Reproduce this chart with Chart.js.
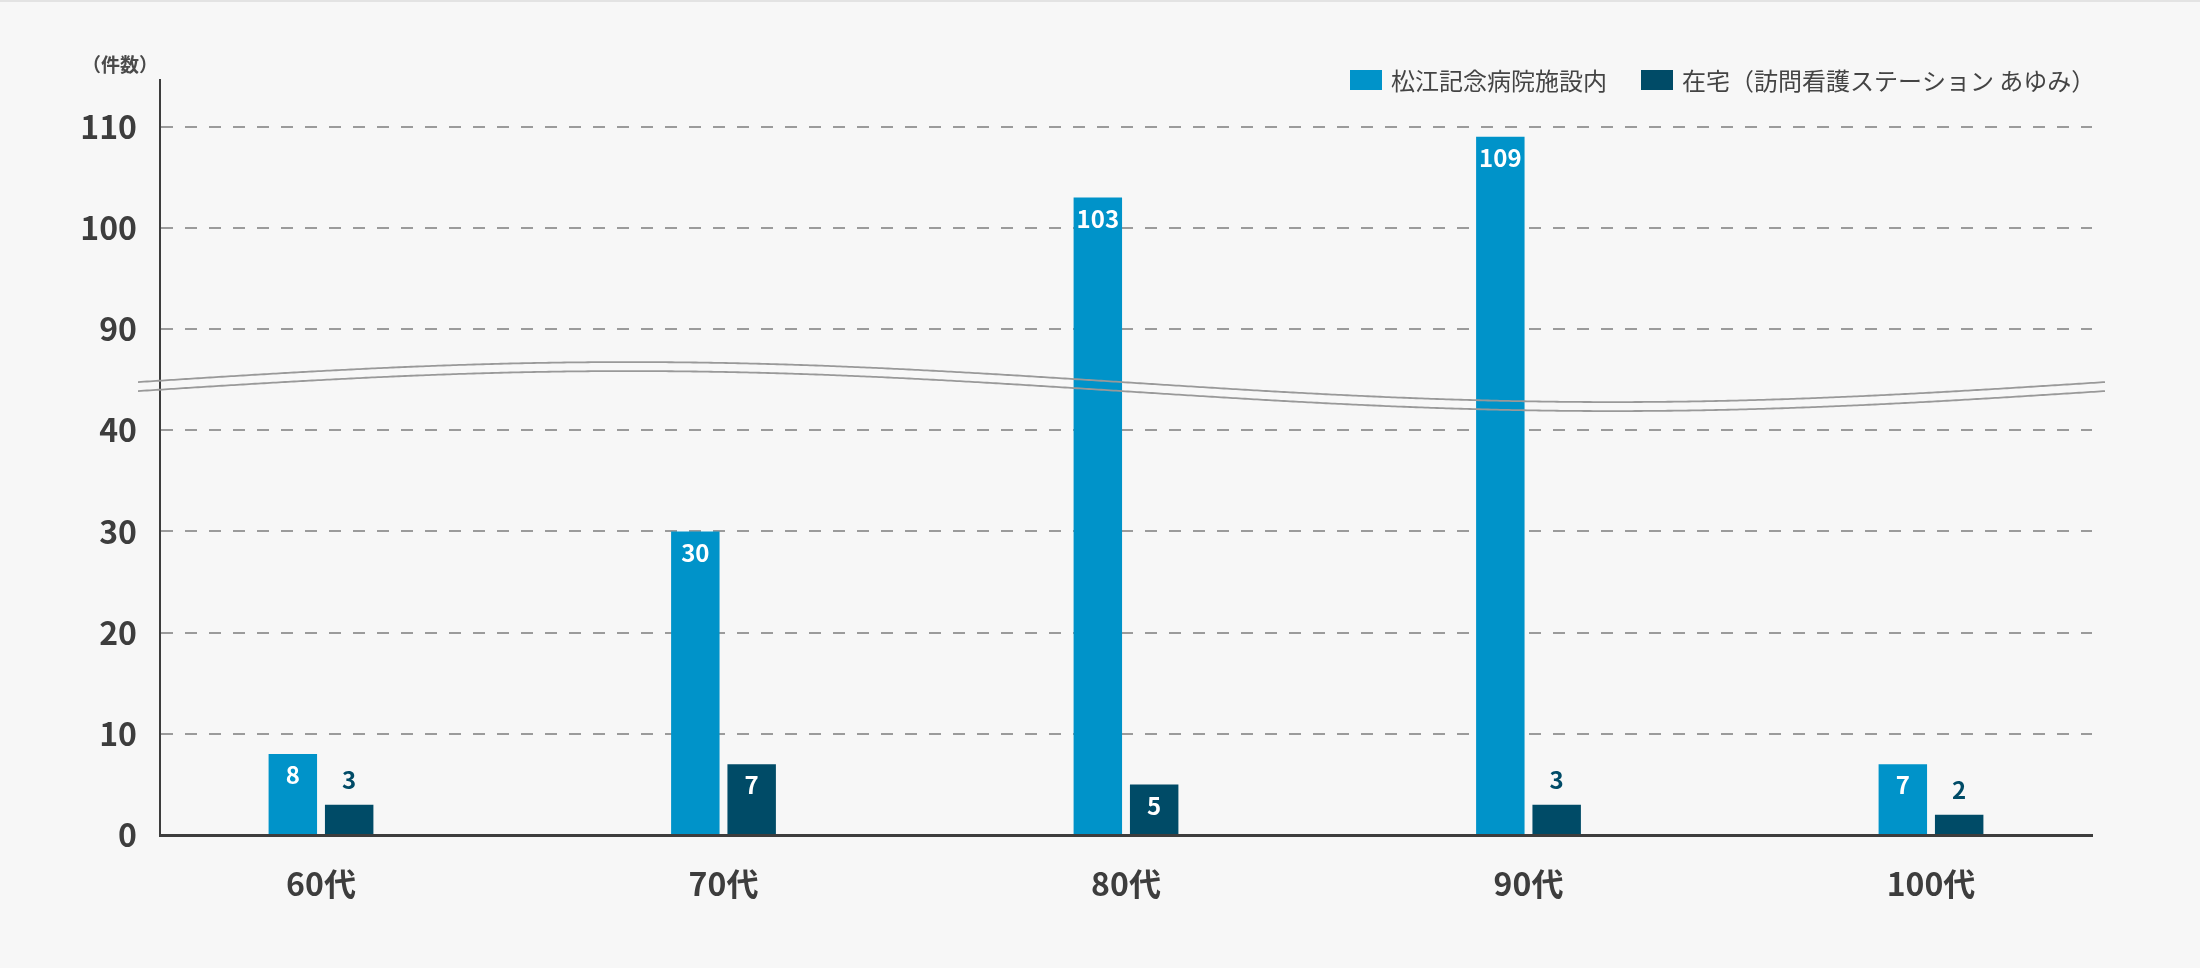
<!DOCTYPE html>
<html lang="ja">
<head>
<meta charset="utf-8">
<script src="https://cdn.jsdelivr.net/npm/chart.js@4.4.1/dist/chart.umd.min.js"></script>
<style>
  html, body { margin: 0; padding: 0; background: #f7f7f7; }
  #wrap { position: relative; width: 2200px; height: 968px; }
  #topline { position: absolute; left: 0; top: 0; width: 2200px; height: 2px; background: #e3e3e3; }
</style>
</head>
<body>
<div id="wrap"><canvas id="ageChart"></canvas><div id="topline"></div></div>
<script>
const ageGroups = ['60代', '70代', '80代', '90代', '100代'];
const seriesNames = ['松江記念病院施設内', '在宅（訪問看護ステーション あゆみ）'];
const hospitalCounts = [8, 30, 103, 109, 7];
const homeCounts = [3, 7, 5, 3, 2];
const seriesColors = ['#0093c9', '#004b67'];
const yTicks = [0, 10, 20, 30, 40, 90, 100, 110];
const unitLabel = '（件数）';

// axis is cut between 40 and 90, so 90 sits one step above 40
const breakLow = 40;
const breakHigh = 90;
const cut = breakHigh - breakLow - 10;
const toAxis = v => v >= breakHigh ? v - cut : v;
const fromAxis = v => v > breakLow ? v + cut : v;

const fontFamily = "'Noto Sans CJK JP', 'Noto Sans', sans-serif";
const textColor = '#3d3d3d';
const allCounts = [hospitalCounts, homeCounts];

// category axis with a smaller margin at both ends than the usual half band
class PaddedCategoryScale extends Chart.CategoryScale {
    configure() {
        super.configure();
        const edge = 0.4;
        this._startValue = this.min - edge;
        this._valueRange = (this.max - this.min) + edge * 2;
    }
}
PaddedCategoryScale.id = 'paddedCategory';
PaddedCategoryScale.defaults = Chart.CategoryScale.defaults;
Chart.register(PaddedCategoryScale);

const overlay = {
    id: 'overlay',
    afterDatasetsDraw(chart) {
        const { ctx, chartArea, scales } = chart;

        // wavy break lines
        const mid = (scales.y.getPixelForValue(toAxis(breakLow)) + scales.y.getPixelForValue(toAxis(breakHigh))) / 2 + 7;
        const x0 = chartArea.left - 22;
        const x1 = chartArea.right + 13;
        ctx.save();
        ctx.strokeStyle = '#999999';
        ctx.lineWidth = 1.8;
        [-4.5, 4.5].forEach(off => {
            ctx.beginPath();
            for (let x = x0; x <= x1 + 3; x += 3) {
                const xx = Math.min(x, x1);
                const y = mid + off - 20 * Math.sin(2 * Math.PI * (xx - x0) / (x1 - x0));
                if (x === x0) ctx.moveTo(xx, y); else ctx.lineTo(xx, y);
            }
            ctx.stroke();
        });
        ctx.restore();

        // value labels
        ctx.save();
        ctx.font = `bold 24px ${fontFamily}`;
        ctx.textAlign = 'center';
        ctx.textBaseline = 'middle';
        chart.data.datasets.forEach((ds, di) => {
            const meta = chart.getDatasetMeta(di);
            meta.data.forEach((bar, i) => {
                const value = allCounts[di][i];
                const h = bar.base - bar.y;
                if (h > 40) {
                    ctx.fillStyle = '#ffffff';
                    ctx.fillText(String(value), bar.x, bar.y + 21);
                } else {
                    ctx.fillStyle = seriesColors[1];
                    ctx.fillText(String(value), bar.x, bar.y - 25);
                }
            });
        });
        ctx.restore();
    },
    afterDraw(chart) {
        const ctx = chart.ctx;

        // unit label
        ctx.save();
        ctx.font = `bold 19px ${fontFamily}`;
        ctx.fillStyle = '#4a4a4a';
        ctx.textAlign = 'center';
        ctx.textBaseline = 'middle';
        ctx.fillText(unitLabel, 120, 65);
        ctx.restore();

        // legend
        let lx = 1350;
        seriesNames.forEach((name, i) => {
            ctx.save();
            ctx.fillStyle = seriesColors[i];
            ctx.fillRect(lx, 70, 32, 20);
            ctx.font = `24px ${fontFamily}`;
            ctx.fillStyle = '#444444';
            ctx.textAlign = 'left';
            ctx.textBaseline = 'middle';
            ctx.fillText(name, lx + 41, 81);
            const w = ctx.measureText(name).width;
            ctx.restore();
            lx += 41 + w + 34;
        });
    }
};

const ctx = document.getElementById('ageChart').getContext('2d');
new Chart(ctx, {
    type: 'bar',
    data: {
        labels: ageGroups,
        datasets: [{
            label: seriesNames[0],
            data: hospitalCounts.map(toAxis),
            backgroundColor: seriesColors[0],
            categoryPercentage: 0.28,
            barPercentage: 0.86
        }, {
            label: seriesNames[1],
            data: homeCounts.map(toAxis),
            backgroundColor: seriesColors[1],
            categoryPercentage: 0.28,
            barPercentage: 0.86
        }]
    },
    options: {
        responsive: true,
        maintainAspectRatio: false,
        animation: false,
        layout: { padding: { top: 80, right: 108, left: 0, bottom: 0 } },
        plugins: {
            legend: { display: false },
            tooltip: { enabled: false }
        },
        scales: {
            x: {
                type: 'paddedCategory',
                offset: false,
                grid: { display: false, drawTicks: false },
                border: { display: true, color: textColor, width: 3 },
                ticks: {
                    color: textColor,
                    padding: 30,
                    font: { family: fontFamily, size: 32, weight: 'bold' }
                },
                afterFit: s => { s.height = 133; }
            },
            y: {
                min: 0,
                max: 74.6,
                afterBuildTicks: s => { s.ticks = yTicks.map(v => ({ value: toAxis(v) })); },
                grid: {
                    color: c => c.tick && c.tick.value === 0 ? 'rgba(0,0,0,0)' : '#9b9b9b',
                    lineWidth: 2,
                    drawTicks: false
                },
                border: { color: textColor, width: 2, dash: [12, 12] },
                ticks: {
                    color: textColor,
                    padding: 23,
                    font: { family: fontFamily, size: 32, weight: 'bold' },
                    callback: v => fromAxis(v)
                },
                afterFit: s => { s.width = 160; }
            }
        }
    },
    plugins: [overlay]
});
</script>
</body>
</html>
